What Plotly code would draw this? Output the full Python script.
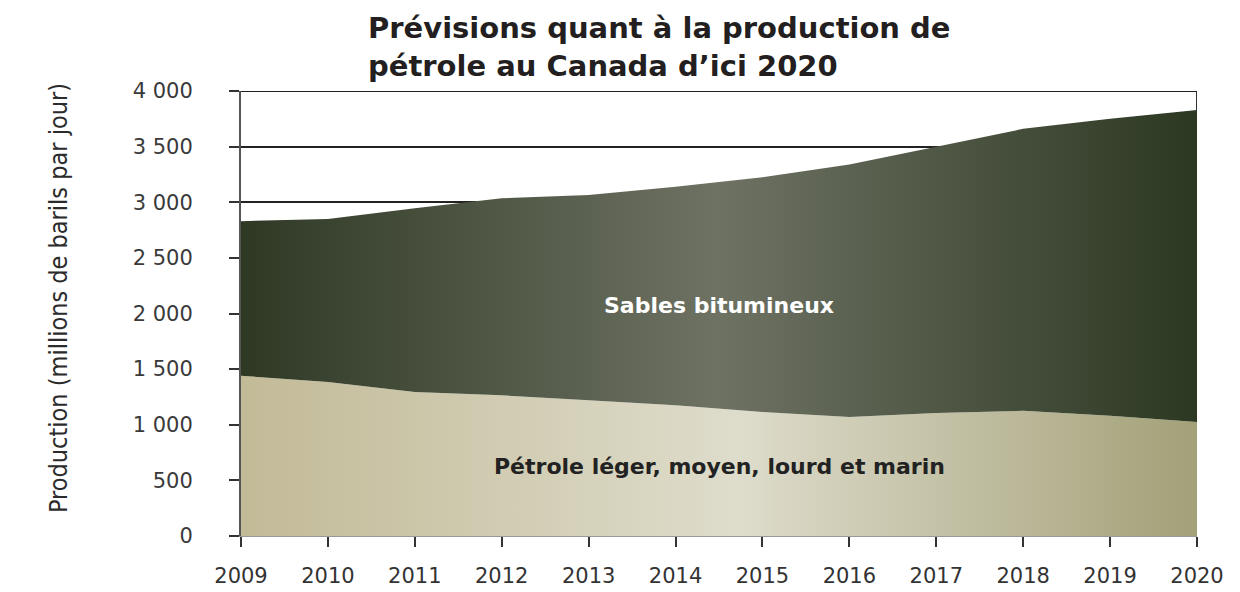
import plotly.graph_objects as go

years = [2009, 2010, 2011, 2012, 2013, 2014, 2015, 2016, 2017, 2018, 2019, 2020]
conventionnel = [1440, 1385, 1295, 1265, 1220, 1175, 1115, 1070, 1105, 1125, 1080, 1025]
sables = [1390, 1465, 1650, 1770, 1845, 1965, 2110, 2270, 2395, 2535, 2670, 2805]
ytick_vals = [0, 500, 1000, 1500, 2000, 2500, 3000, 3500, 4000]
ytick_text = ["0", "500", "1 000", "1 500", "2 000", "2 500", "3 000", "3 500", "4 000"]

# page body margin shifts the figure by 8px
OFF = 8
L, R, T, B = 241 - OFF, 1197 - OFF, 91 - OFF, 536 - OFF
W = R - L
H = B - T
FW, FH = 1240, 592


def px(xs):
    return (xs - OFF - L) / W


def py(ys):
    return (B - (ys - OFF)) / H


fig = go.Figure()
fig.add_trace(go.Scatter(
    x=years, y=conventionnel, mode="lines", stackgroup="one",
    line=dict(width=0, color="#b9b38f"),
    fillgradient=dict(type="horizontal",
                      colorscale=[[0, "#c2ba97"], [0.52, "#dedccb"], [1, "#a3a178"]]),
    hoverinfo="skip", showlegend=False))
fig.add_trace(go.Scatter(
    x=years, y=sables, mode="lines", stackgroup="one",
    line=dict(width=0, color="#3a4430"),
    fillgradient=dict(type="horizontal",
                      colorscale=[[0, "#2e3924"], [0.5, "#6e7263"], [1, "#2c3822"]]),
    hoverinfo="skip", showlegend=False))

fig.add_shape(type="line", xref="x", yref="y", x0=2020, x1=2020, y0=0, y1=4000,
              line=dict(color="#333333", width=2), layer="below")
fig.add_shape(type="line", xref="x", yref="y", x0=2009, x1=2020, y0=4000, y1=4000,
              line=dict(color="#222222", width=2), layer="below")

fig.add_annotation(x=2014.5, y=2076, xref="x", yref="y", text="<b>Sables bitumineux</b>",
                   showarrow=False, font=dict(family="DejaVu Sans, sans-serif", size=22, color="#ffffff"))
fig.add_annotation(x=2014.5, y=629, xref="x", yref="y", text="<b>Pétrole léger, moyen, lourd et marin</b>",
                   showarrow=False, font=dict(family="DejaVu Sans, sans-serif", size=22, color="#222222"))

fig.add_annotation(xref="paper", yref="paper", x=px(58), y=py(298),
                   text="Production (millions de barils par jour)", textangle=-90,
                   showarrow=False, xanchor="center", yanchor="middle",
                   font=dict(family="Liberation Sans Narrow, DejaVu Sans Condensed, Roboto Condensed, Arial Narrow, sans-serif",
                             size=25, color="#2b2b2b"))

fig.add_annotation(xref="paper", yref="paper", x=px(366), y=py(9),
                   text="<b>Prévisions quant à la production de<br>pétrole au Canada d’ici 2020</b>",
                   showarrow=False, xanchor="left", yanchor="top", align="left",
                   font=dict(family="DejaVu Sans, sans-serif", size=29, color="#231f20"))

fig.update_layout(
    width=FW, height=FH,
    margin=dict(l=L, r=FW - R, t=T, b=FH - B, autoexpand=False),
    paper_bgcolor="white", plot_bgcolor="white",
    xaxis=dict(range=[2009, 2020], tickvals=years, ticktext=[str(y) for y in years],
               showgrid=False, zeroline=False, showline=True, linecolor="#999999", linewidth=1,
               ticks="outside", ticklen=10, tickcolor="#333333", tickwidth=1.5,
               ticklabelstandoff=11, automargin=False,
               tickfont=dict(family="DejaVu Sans, sans-serif", size=21, color="#333333")),
    yaxis=dict(range=[0, 4000], tickvals=ytick_vals, ticktext=ytick_text,
               showgrid=True, gridcolor="#222222", gridwidth=2, zeroline=False,
               showline=True, linecolor="#555555", linewidth=2,
               ticks="outside", ticklen=10, tickcolor="#333333", tickwidth=1.5,
               ticklabelstandoff=32, automargin=False,
               tickfont=dict(family="DejaVu Sans, sans-serif", size=21, color="#3a3a3a")),
)

fig.write_html("out.html")
